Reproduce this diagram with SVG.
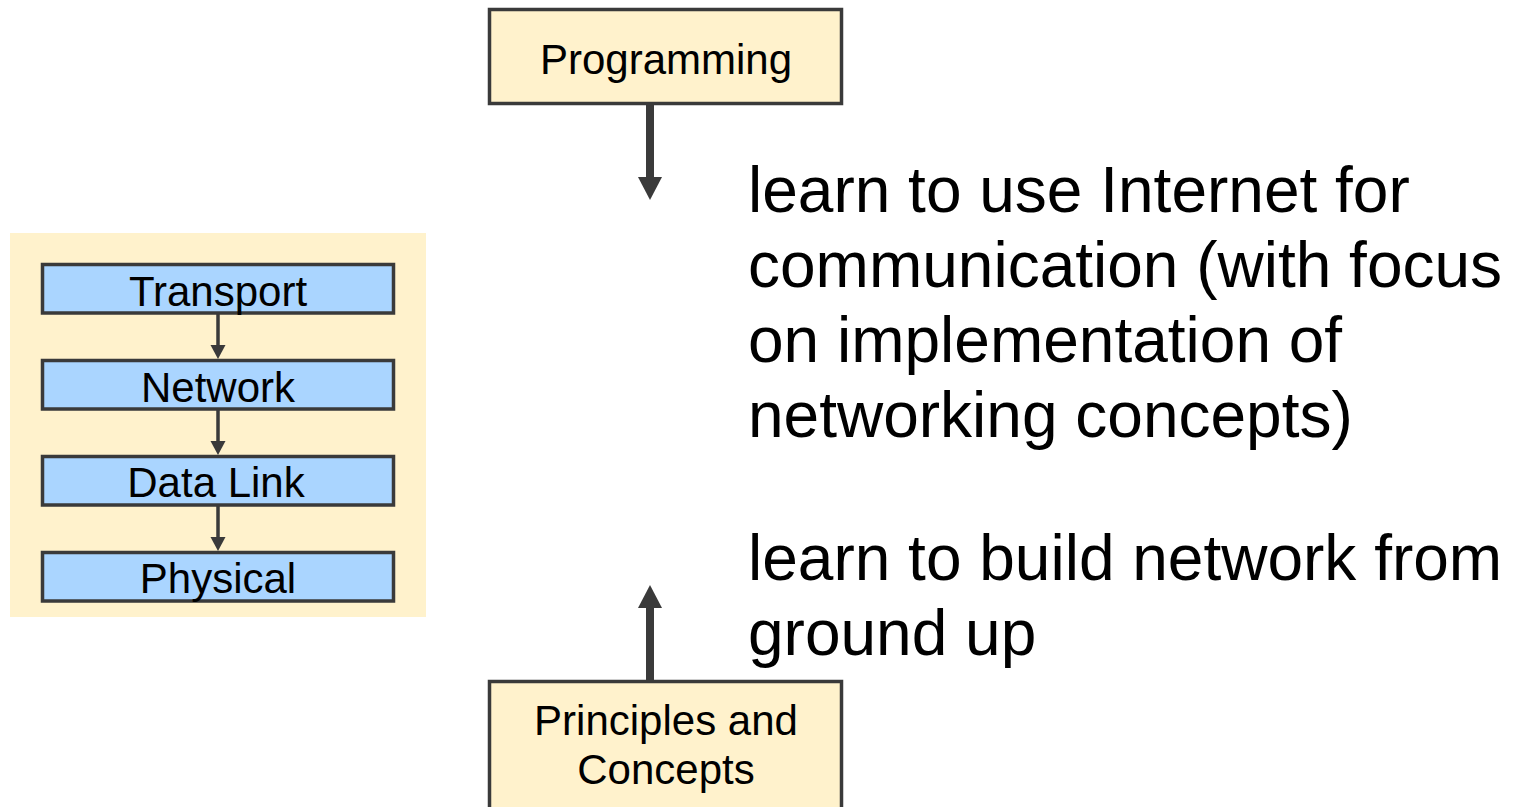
<svg xmlns="http://www.w3.org/2000/svg" width="1521" height="807" viewBox="0 0 1521 807">
<style>
.box{fill:#fff2cc;stroke:#3a3a3a;stroke-width:3.5}
.layer{fill:#aad5ff;stroke:#3a3a3a;stroke-width:3.5}
.lbl{font-family:"Liberation Sans",Arial,sans-serif;font-size:42px;fill:#000;text-anchor:middle}
.big{font-family:"Liberation Sans",Arial,sans-serif;font-size:64px;fill:#000}
.ah{fill:#3a3a3a}
.ln{stroke:#3a3a3a}
</style>
<rect width="1521" height="807" fill="#ffffff"/>
<g id="stack">
<rect x="10" y="233" width="416" height="384" fill="#fff2cc"/>
</g>
<g id="transport"><rect class="layer" x="42.5" y="264.5" width="351" height="48.5"/><text class="lbl" x="218" y="306">Transport</text></g>
<g id="network"><rect class="layer" x="42.5" y="360.5" width="351" height="48.5"/><text class="lbl" x="218" y="402">Network</text></g>
<g id="datalink"><rect class="layer" x="42.5" y="456.5" width="351" height="48.5"/><text class="lbl" x="216" y="497">Data Link</text></g>
<g id="physical"><rect class="layer" x="42.5" y="552.5" width="351" height="48.5"/><text class="lbl" x="218" y="593">Physical</text></g>
<g id="programming"><rect class="box" x="489.5" y="9.5" width="352" height="94"/><text class="lbl" x="666" y="74">Programming</text></g>
<g id="principles"><rect class="box" x="489.5" y="681.5" width="352" height="140"/><text class="lbl" x="666" y="735">Principles and</text><text class="lbl" x="666" y="784">Concepts</text></g>
<g id="connectors">
<line class="ln" x1="218" y1="314" x2="218" y2="346" stroke-width="3.5"/>
<polygon class="ah" points="210.5,345 225.5,345 218,359"/>
<line class="ln" x1="218" y1="410" x2="218" y2="442" stroke-width="3.5"/>
<polygon class="ah" points="210.5,441 225.5,441 218,455"/>
<line class="ln" x1="218" y1="506" x2="218" y2="538" stroke-width="3.5"/>
<polygon class="ah" points="210.5,537 225.5,537 218,551"/>
<line class="ln" x1="650" y1="105" x2="650" y2="178" stroke-width="8"/>
<polygon class="ah" points="638,177 662,177 650,200"/>
<line class="ln" x1="650" y1="607" x2="650" y2="681" stroke-width="8"/>
<polygon class="ah" points="638,608 662,608 650,585"/>
</g>
<g id="text-programming">
<text class="big" x="748" y="212">learn to use Internet for</text>
<text class="big" x="748" y="287">communication (with focus</text>
<text class="big" x="748" y="362">on implementation of</text>
<text class="big" x="748" y="437">networking concepts)</text>
</g>
<g id="text-principles">
<text class="big" x="748" y="580">learn to build network from</text>
<text class="big" x="748" y="655">ground up</text>
</g>
</svg>
